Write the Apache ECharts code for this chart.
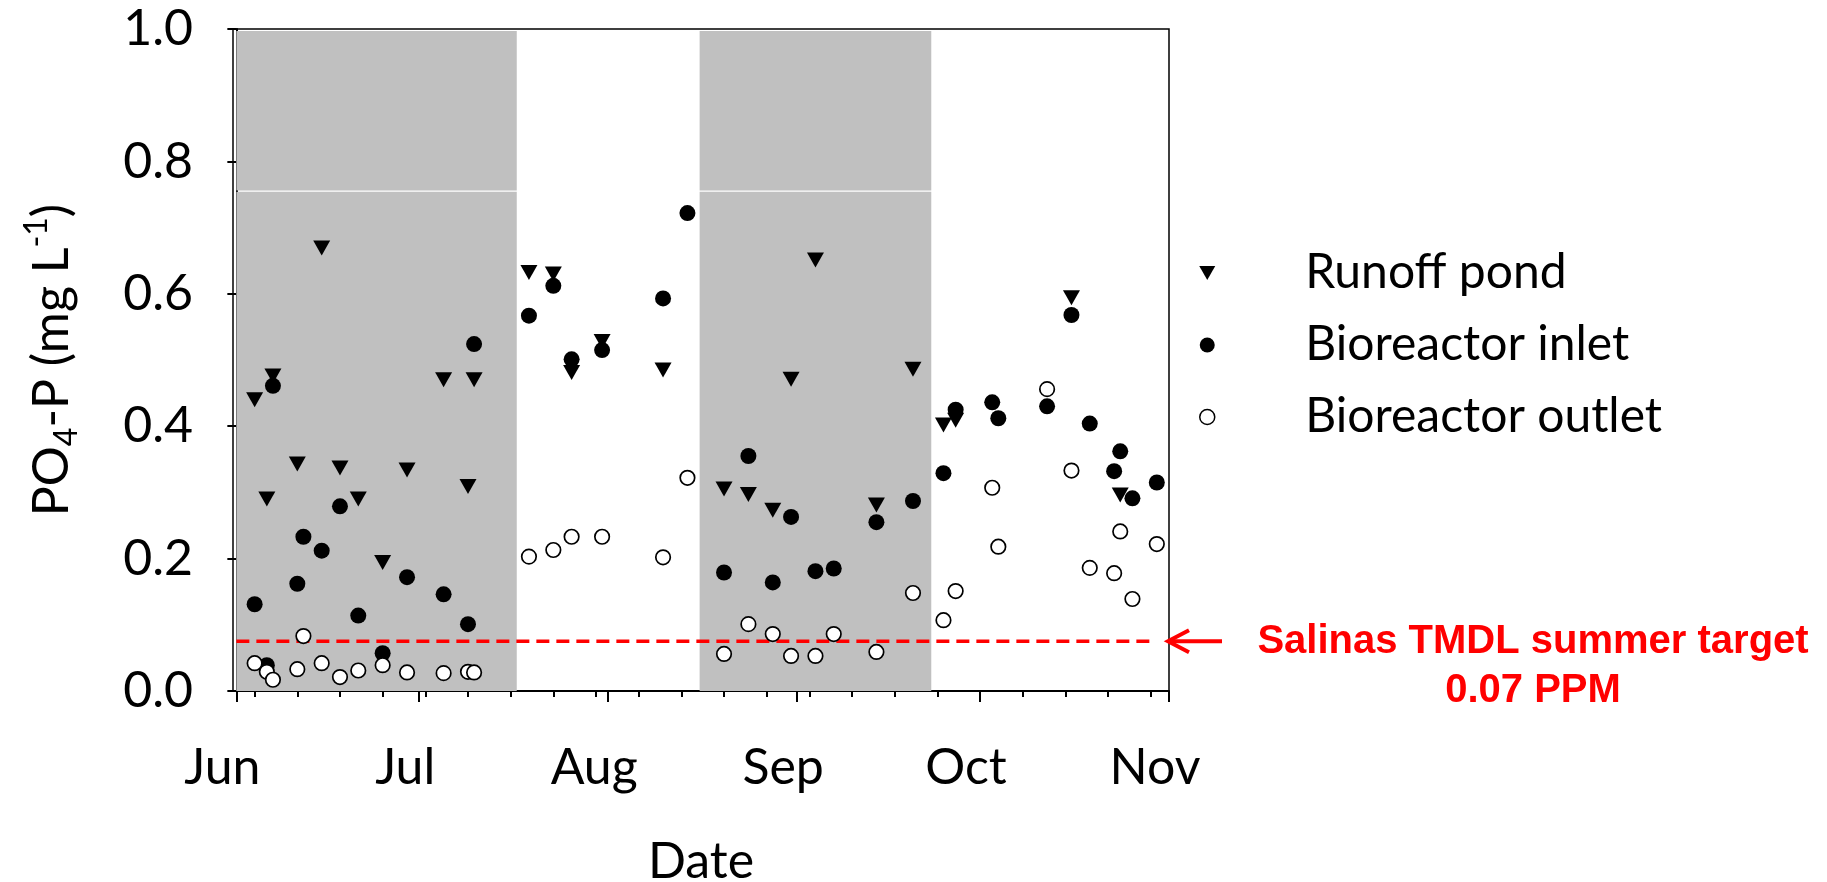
<!DOCTYPE html>
<html>
<head>
<meta charset="utf-8">
<script src="https://cdn.jsdelivr.net/npm/echarts@6/dist/echarts.min.js"></script>
<style>
html,body{margin:0;padding:0;background:#fff;}
#c{width:1827px;height:882px;}
</style>
</head>
<body>
<div id="c"></div>
<script>
// ---- data (x = days since Jun 1) ----
const monthLabels = ['Jun', 'Jul', 'Aug', 'Sep', 'Oct', 'Nov'];
const monthTickDays = [0, 30, 61, 92, 122, 153];
const weekTickDays = [3, 10, 17, 24, 31, 38, 45, 52, 59, 66, 73, 80, 87, 94, 101, 108, 115, 122, 129, 136, 143, 150];

const sampleDays = [3, 5, 6, 10, 11, 14, 17, 20, 24, 28, 34, 38, 39, 48, 52, 55, 60, 70, 74, 80, 84, 88, 91, 95, 98, 105, 111, 116, 118, 124, 125, 133, 137, 140, 144, 145, 147, 151];
const runoffPond = [0.44, 0.29, 0.476, 0.343, null, 0.669, 0.337, 0.29, 0.194, 0.334, 0.47, 0.309, 0.47, 0.632, 0.630, 0.481, 0.528, 0.485, null, 0.305, 0.297, 0.273, 0.471, 0.651, null, 0.281, 0.486, 0.402, 0.409, null, null, null, 0.594, null, null, 0.296, null, null];
const bioreactorInlet = [0.131, 0.039, 0.461, 0.162, 0.233, 0.212, 0.279, 0.114, 0.057, 0.172, 0.146, 0.101, 0.524, 0.567, 0.612, 0.501, 0.515, 0.593, 0.722, 0.179, 0.355, 0.164, 0.263, 0.181, 0.185, 0.255, 0.287, 0.329, 0.425, 0.436, 0.412, 0.43, 0.568, 0.404, 0.332, 0.362, 0.291, 0.315];
const bioreactorOutlet = [0.042, 0.029, 0.017, 0.033, 0.083, 0.042, 0.021, 0.031, 0.039, 0.028, 0.027, 0.029, 0.028, 0.203, 0.213, 0.233, 0.233, 0.202, 0.322, 0.056, 0.101, 0.086, 0.053, 0.053, 0.086, 0.059, 0.148, 0.107, 0.151, 0.307, 0.218, 0.456, 0.333, 0.186, 0.178, 0.241, 0.139, 0.222];

const shadedPeriods = [[0, 46], [76, 114]];
const tmdlTarget = 0.075;
const tmdlLineDays = [0, 150];

const X_MIN = -0.55, X_MAX = 153;
const TRI = 'path://M0,0 L16,0 L8,14 Z';
const FONT = 'Lato, "Open Sans", sans-serif';

function pairs(vals) {
  const out = [];
  vals.forEach((v, i) => { if (v !== null) out.push([sampleDays[i], v]); });
  return out;
}

const bandAreas = [];
shadedPeriods.forEach(p => {
  bandAreas.push([{ xAxis: p[0], yAxis: 0 }, { xAxis: p[1], yAxis: 0.754 }]);
  bandAreas.push([{ xAxis: p[0], yAxis: 0.756 }, { xAxis: p[1], yAxis: 0.997 }]);
});

const chart = echarts.init(document.getElementById('c'), null, { renderer: 'canvas' });

chart.setOption({
  animation: false,
  backgroundColor: '#fff',
  grid: {
    left: 233, top: 29, width: 936, height: 662,
    containLabel: false, outerBoundsMode: 'none',
    show: true, borderColor: '#000', borderWidth: 1.5, backgroundColor: 'transparent'
  },
  xAxis: [{
    type: 'value', min: X_MIN, max: X_MAX, position: 'bottom',
    axisLine: { show: true, onZero: false, lineStyle: { color: '#000', width: 2 } },
    axisTick: { show: true, customValues: monthTickDays, length: 11, lineStyle: { color: '#000', width: 2 } },
    axisLabel: {
      show: true, customValues: monthTickDays, margin: 52, padding: [0, 28, 0, 0],
      fontFamily: FONT, fontSize: 50, color: '#000',
      formatter: v => monthLabels[monthTickDays.indexOf(v)] || ''
    },
    splitLine: { show: false },
    name: 'Date', nameLocation: 'middle', nameGap: 146,
    nameTextStyle: { fontFamily: FONT, fontSize: 50, color: '#000' }
  }, {
    type: 'value', min: X_MIN, max: X_MAX, position: 'bottom',
    axisLine: { show: false },
    axisTick: { show: true, customValues: weekTickDays, length: 6, lineStyle: { color: '#000', width: 2 } },
    axisLabel: { show: false },
    splitLine: { show: false }
  }],
  yAxis: {
    type: 'value', min: 0, max: 1, interval: 0.2,
    axisLine: { show: true, lineStyle: { color: '#000', width: 2 } },
    axisTick: { show: true, length: 9, lineStyle: { color: '#000', width: 2 } },
    axisLabel: { margin: 40, fontFamily: FONT, fontSize: 50, color: '#000', formatter: v => v.toFixed(1) },
    splitLine: { show: false },
    name: 'PO{sub|4}-P (mg L{sup|-1})',
    nameLocation: 'middle', nameRotate: 90, nameGap: 150,
    nameTextStyle: {
      fontFamily: FONT, fontSize: 50, color: '#000', lineHeight: 62,
      rich: {
        sub: { fontFamily: FONT, fontSize: 32, color: '#000', lineHeight: 32, verticalAlign: 'bottom' },
        sup: { fontFamily: FONT, fontSize: 32, color: '#000', lineHeight: 44, verticalAlign: 'top' }
      }
    }
  },
  legend: {
    orient: 'vertical', left: 1199, top: 245, padding: 0,
    itemWidth: 16, itemHeight: 15, itemGap: 16, selectedMode: false,
    textStyle: { fontFamily: FONT, fontSize: 48, color: '#000', lineHeight: 56, padding: [0, 0, 0, 85] },
    data: [
      { name: 'Runoff pond', icon: TRI, itemStyle: { color: '#000', opacity: 1 } },
      { name: 'Bioreactor inlet', icon: 'circle', itemStyle: { color: '#000', opacity: 1 } },
      { name: 'Bioreactor outlet', icon: 'circle', itemStyle: { color: '#fff', borderColor: '#000', borderWidth: 1.5, opacity: 1 } }
    ]
  },
  series: [
    {
      name: 'TMDL target', type: 'line', z: 2, silent: true,
      data: tmdlLineDays.map(d => [d, tmdlTarget]),
      symbol: 'none',
      lineStyle: { color: '#ff0000', width: 3.5, type: [13, 7] },
      markArea: { silent: true, itemStyle: { color: '#c0c0c0', opacity: 1 }, data: bandAreas }
    },
    {
      name: 'Runoff pond', type: 'scatter', z: 3,
      data: pairs(runoffPond), symbol: TRI, symbolSize: [17, 15],
      itemStyle: { color: '#000', opacity: 1 }
    },
    {
      name: 'Bioreactor inlet', type: 'scatter', z: 4,
      data: pairs(bioreactorInlet), symbol: 'circle', symbolSize: 16,
      itemStyle: { color: '#000', opacity: 1 }
    },
    {
      name: 'Bioreactor outlet', type: 'scatter', z: 5,
      data: pairs(bioreactorOutlet), symbol: 'circle', symbolSize: 14.5,
      itemStyle: { color: '#fff', borderColor: '#000', borderWidth: 1.7, opacity: 1 }
    }
  ]
});

const yT = chart.convertToPixel({ yAxisIndex: 0 }, tmdlTarget);
const xR = chart.convertToPixel({ xAxisIndex: 0 }, X_MAX);
chart.setOption({
  graphic: [
    { type: 'line', silent: true, shape: { x1: xR + 53, y1: yT, x2: xR, y2: yT }, style: { stroke: '#ff0000', lineWidth: 4 } },
    { type: 'polyline', silent: true, shape: { points: [[xR + 20, yT - 11], [xR - 1, yT], [xR + 20, yT + 11]] }, style: { stroke: '#ff0000', lineWidth: 4, fill: null } },
    { type: 'text', silent: true, x: 1533, y: yT + 25,
      style: { text: 'Salinas TMDL summer target\n0.07 PPM', font: 'bold 40px "Liberation Sans", Arial, sans-serif', fill: '#ff0000', align: 'center', verticalAlign: 'middle', lineHeight: 49 } }
  ]
});
</script>
</body>
</html>
